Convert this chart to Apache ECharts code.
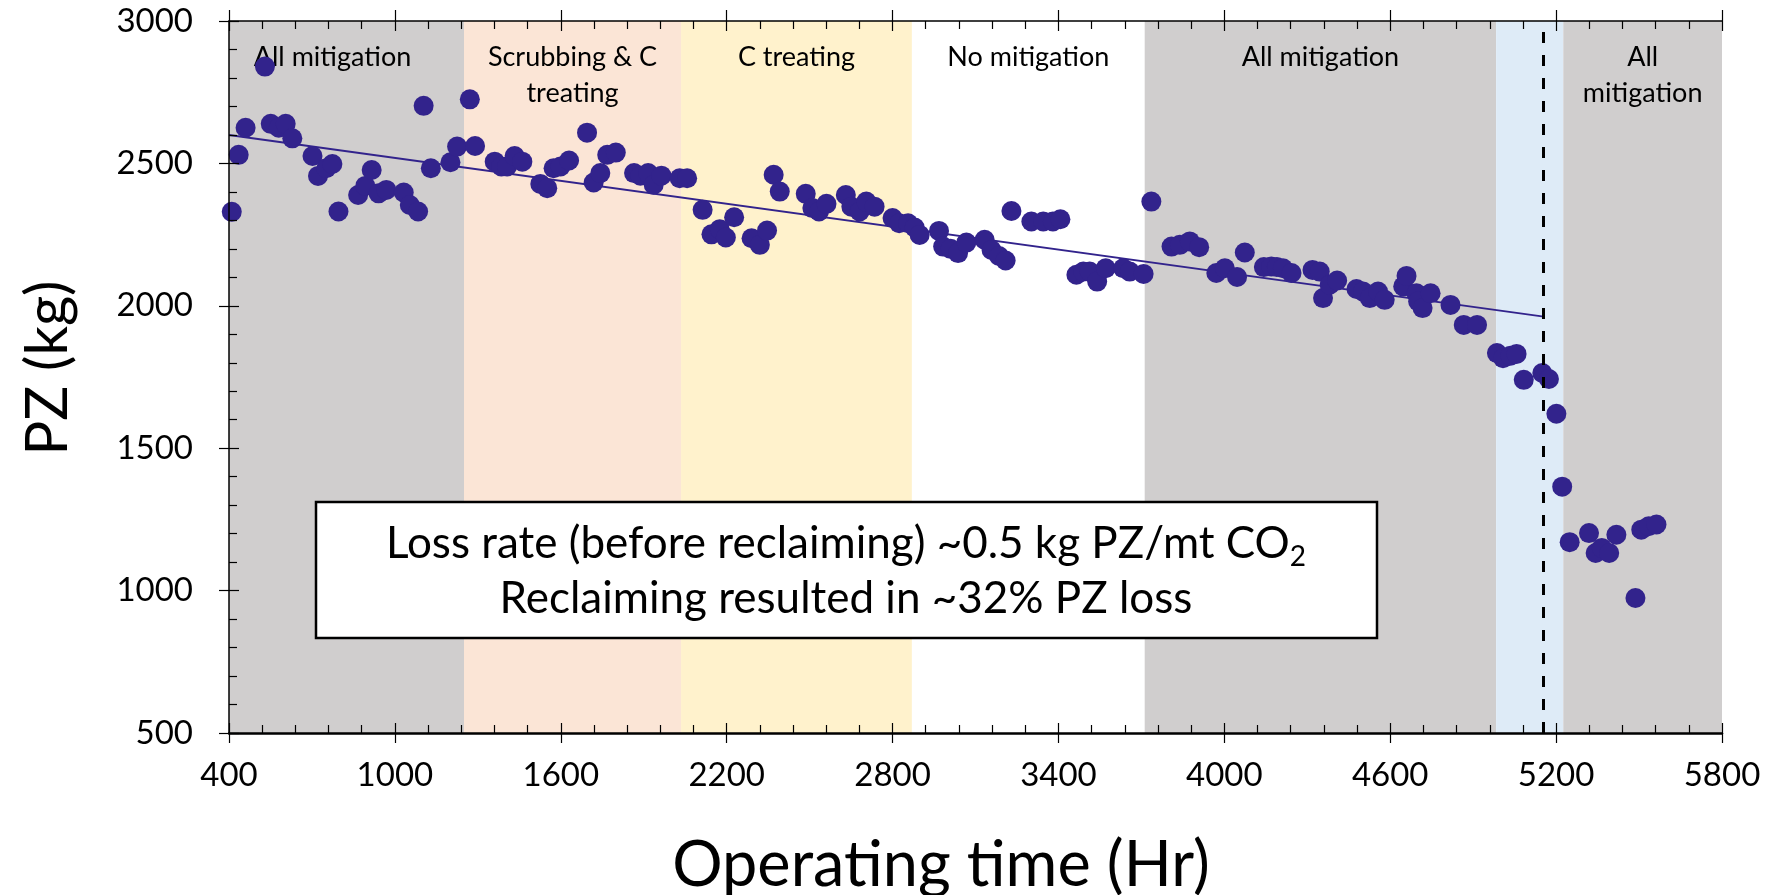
<!DOCTYPE html>
<html>
<head>
<meta charset="utf-8">
<script src="https://cdn.jsdelivr.net/npm/echarts@6/dist/echarts.min.js"></script>
<style>
html,body{margin:0;padding:0;background:#fff;}
#c{width:1777px;height:895px;}
</style>
</head>
<body>
<div id="c"></div>
<script>
// ---- data ----
const hours = [410,435,460,530,551,580,605,629,702,722,752,774,796,867,893,916,941,969,1032,1054,1084,1104,1130,1201,1225,1271,1290,1361,1385,1406,1433,1461,1526,1551,1574,1599,1630,1695,1719,1743,1768,1799,1865,1888,1916,1936,1964,2030,2057,
2113,2145,2175,2197,2227,2290,2320,2346,2370,2392,2486,2510,2534,2561,2631,2651,2681,2705,2735,2800,2824,2856,2880,2898,2968,2983,3010,3037,3067,3133,3158,3185,3209,3230,3302,3345,3380,3407,3465,3490,3513,3540,3571,3634,3658,3708,
3736,3809,3839,3875,3909,3971,4002,4046,4074,4143,4170,4190,4212,4243,4319,4345,4357,4381,4408,4478,4502,4526,4556,4580,4647,4659,4695,4701,4717,4746,4818,4866,4914,4986,5008,5035,5057,5083,5150,5174,5201,5222,5249,5319,5343,5365,5392,5418,5487,5508,5535,5563];
const pz = [2330,2530,2625,2840,2639,2625,2639,2588,2526,2456,2483,2498,2331,2389,2421,2477,2395,2407,2398,2354,2331,2702,2483,2504,2559,2725,2561,2506,2489,2489,2526,2506,2428,2413,2483,2489,2510,2608,2433,2466,2530,2538,2466,2457,2466,2425,2457,2448,2448,
2337,2251,2269,2240,2311,2237,2214,2264,2460,2401,2393,2343,2331,2358,2389,2348,2331,2366,2348,2308,2290,2290,2275,2249,2263,2208,2200,2185,2222,2232,2196,2175,2159,2333,2296,2296,2296,2304,2109,2120,2120,2085,2132,2132,2120,2112,
2366,2208,2214,2226,2206,2115,2132,2101,2187,2136,2138,2136,2132,2115,2126,2120,2027,2074,2089,2059,2050,2027,2050,2021,2068,2105,2044,2015,1992,2044,2003,1933,1933,1834,1816,1825,1831,1740,1764,1743,1621,1365,1170,1202,1132,1150,1132,1196,974,1214,1226,1232];
// linear fit (before reclaiming): endpoints
const trendX = [400, 5155];
const trendY = [2600, 1962];
// operating regimes
const bandStart = [400, 1250, 2035, 2870, 3712, 4983, 5226];
const bandEnd   = [1250, 2035, 2870, 3712, 4983, 5226, 5800];
const bandLabel = ['All mitigation', 'Scrubbing & C\ntreating', 'C treating', 'No mitigation', 'All mitigation', '', 'All\nmitigation'];
const bandColor = ['#D0CECE', '#FBE5D6', '#FFF2CC', '#FFFFFF', '#D0CECE', '#DEEBF7', '#D0CECE'];
const reclaimHour = 5155;
const xTickLabels = ['400','1000','1600','2200','2800','3400','4000','4600','5200','5800'];
const yTickLabels = ['500','1000','1500','2000','2500','3000'];
const xTitle = 'Operating time (Hr)';
const yTitle = 'PZ (kg)';
const noteLine1 = 'Loss rate (before reclaiming) ~0.5 kg PZ/mt CO';
const noteLine2 = 'Reclaiming resulted in ~32% PZ loss';

const FONT = 'Lato';
const DOT = '#32238C';

const chart = echarts.init(document.getElementById('c'), null, {renderer: 'canvas'});

const points = hours.map((h, i) => [h, pz[i]]);
const trend = trendX.map((x, i) => [x, trendY[i]]);

function xAxisBase(extra) {
  return Object.assign({
    type: 'value', min: 400, max: 5800, interval: 600,
    splitLine: {show: false}, z: 10,
    axisLine: {show: false, onZero: false},
    axisLabel: {show: false},
    axisTick: {show: false},
    minorTick: {show: false},
  }, extra);
}
function yAxisBase(extra) {
  return Object.assign({
    type: 'value', min: 500, max: 3000, interval: 500,
    splitLine: {show: false}, z: 10,
    axisLine: {show: false, onZero: false},
    axisLabel: {show: false},
    axisTick: {show: false},
    minorTick: {show: false},
  }, extra);
}

const option = {
  animation: false,
  backgroundColor: '#fff',
  grid: {left: 229, right: 55, top: 21, bottom: 162, containLabel: false},
  xAxis: [
    xAxisBase({
      position: 'bottom',
      axisLine: {show: true, onZero: false, lineStyle: {color: '#000', width: 2.5}},
      axisTick: {show: true, inside: true, length: 10, lineStyle: {color: '#000', width: 1.2}},
      minorTick: {show: true, splitNumber: 5, length: 8, lineStyle: {color: '#000', width: 1.2}},
      axisLabel: {show: true, margin: 26, fontFamily: FONT, fontSize: 33, color: '#000',
        formatter: v => xTickLabels[Math.round((v - 400) / 600)]}
    }),
    xAxisBase({
      position: 'bottom',
      axisTick: {show: true, inside: false, length: 10, lineStyle: {color: '#000', width: 1.2}}
    }),
    xAxisBase({
      position: 'top',
      axisLine: {show: true, onZero: false, lineStyle: {color: '#000', width: 1.5}},
      axisTick: {show: true, inside: true, length: 10, lineStyle: {color: '#000', width: 1.2}},
      minorTick: {show: true, splitNumber: 5, length: 8, lineStyle: {color: '#000', width: 1.2}}
    }),
    xAxisBase({
      position: 'top',
      axisTick: {show: true, inside: false, length: 11, lineStyle: {color: '#000', width: 1.2}}
    })
  ],
  yAxis: [
    yAxisBase({
      position: 'left',
      axisLine: {show: true, onZero: false, lineStyle: {color: '#000', width: 1.5}},
      axisTick: {show: true, inside: true, length: 10, lineStyle: {color: '#000', width: 1.2}},
      minorTick: {show: true, splitNumber: 5, length: 8, lineStyle: {color: '#000', width: 1.2}},
      axisLabel: {show: true, margin: 36, fontFamily: FONT, fontSize: 33, color: '#000',
        formatter: v => yTickLabels[Math.round((v - 500) / 500)]}
    }),
    yAxisBase({
      position: 'left',
      axisTick: {show: true, inside: false, length: 10, lineStyle: {color: '#000', width: 1.2}}
    })
  ],
  series: [
    {
      type: 'line', name: 'bands', data: [], z: 0, silent: true,
      xAxisIndex: 0, yAxisIndex: 0,
      markArea: {
        silent: true,
        data: bandStart.map((s, i) => [
          {xAxis: s, itemStyle: {color: bandColor[i]},
           label: {show: !!bandLabel[i], formatter: bandLabel[i], position: 'insideTop', distance: 18,
             offset: i === 0 ? [-14, 0] : [0, 0],
             fontFamily: FONT, fontSize: 27, lineHeight: 36, color: '#000', align: 'center'}},
          {xAxis: bandEnd[i]}
        ])
      }
    },
    {
      type: 'line', name: 'trend', data: trend, z: 2, silent: true,
      xAxisIndex: 0, yAxisIndex: 0,
      showSymbol: false, symbol: 'none',
      lineStyle: {color: DOT, width: 2},
      markLine: {
        silent: true, symbol: 'none', label: {show: false},
        lineStyle: {color: '#000', width: 3, type: [11, 12]},
        data: [{xAxis: reclaimHour}]
      }
    },
    {
      type: 'scatter', name: 'PZ', data: points, z: 3,
      xAxisIndex: 0, yAxisIndex: 0,
      symbol: 'circle', symbolSize: 20,
      itemStyle: {color: DOT, opacity: 1}
    }
  ],
  graphic: [
    {
      type: 'rect', z: 50,
      shape: {x: 316, y: 502, width: 1061, height: 136},
      style: {fill: '#fff', stroke: '#000', lineWidth: 2.5}
    },
    {
      type: 'text', z: 51, x: 846, y: 571,
      style: {
        text: '{a|' + noteLine1 + '}{s|2}\n{a|' + noteLine2 + '}',
        align: 'center', verticalAlign: 'middle',
        rich: {
          a: {fontFamily: FONT, fontSize: 44, lineHeight: 55, fill: '#000'},
          s: {fontFamily: FONT, fontSize: 28, lineHeight: 26, verticalAlign: 'bottom', fill: '#000'}
        }
      }
    },
    {
      type: 'text', z: 51, x: 941, y: 866,
      style: {text: xTitle, fontFamily: FONT, fontSize: 63, fill: '#000', align: 'center', verticalAlign: 'middle'}
    },
    {
      type: 'text', z: 51, x: 48, y: 368, rotation: Math.PI / 2,
      style: {text: yTitle, fontFamily: FONT, fontSize: 58, fill: '#000', align: 'center', verticalAlign: 'middle'}
    }
  ]
};
chart.setOption(option);
</script>
</body>
</html>
